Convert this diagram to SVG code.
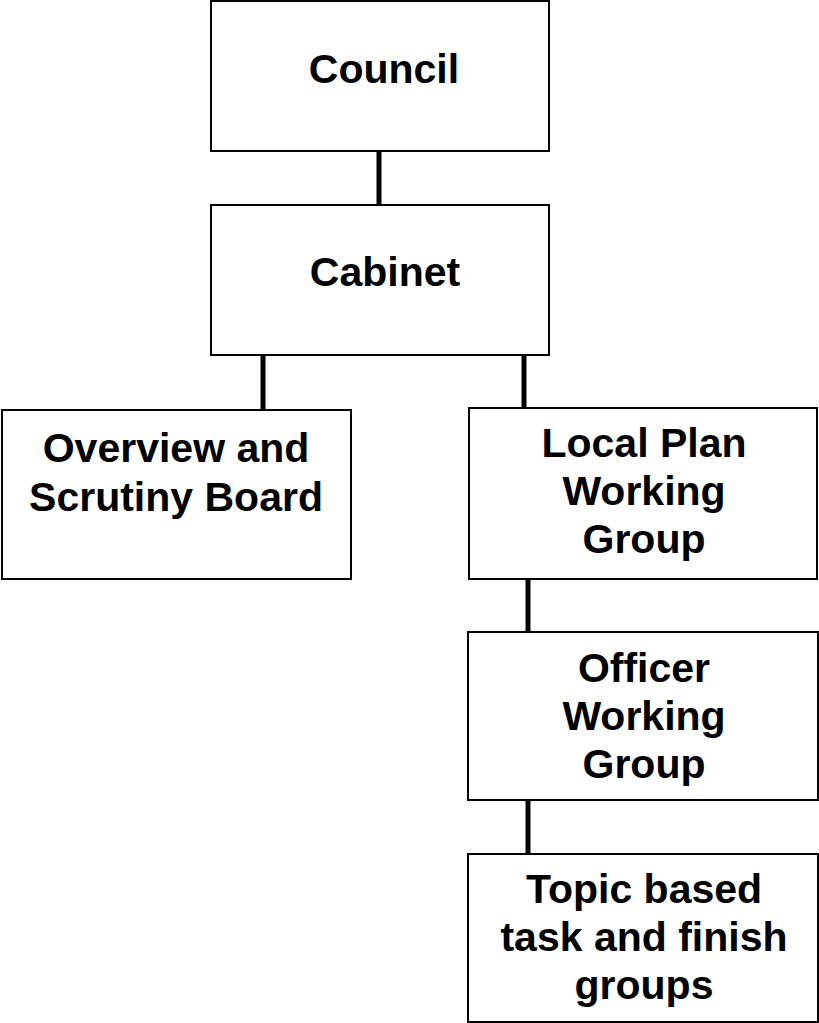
<svg xmlns="http://www.w3.org/2000/svg" width="819" height="1023" viewBox="0 0 819 1023">
<style>
.box{fill:#fff;stroke:#000;stroke-width:2}
.lbl{font-family:"Liberation Sans",Arial,sans-serif;font-weight:bold;font-size:41px;fill:#000;text-anchor:middle}
.con{stroke:#000;stroke-width:5;fill:none}
</style>
<rect width="819" height="1023" fill="#fff"/>
<g id="connectors">
<line class="con" x1="379" y1="151" x2="379" y2="205"/>
<line class="con" x1="263" y1="355" x2="263" y2="410"/>
<line class="con" x1="524" y1="355" x2="524" y2="408"/>
<line class="con" x1="528" y1="579" x2="528" y2="632"/>
<line class="con" x1="528" y1="800" x2="528" y2="854"/>
</g>
<g id="council">
<rect class="box" x="211" y="1" width="338" height="150"/>
<text class="lbl" x="384" y="83">Council</text>
</g>
<g id="cabinet">
<rect class="box" x="211" y="205" width="338" height="150"/>
<text class="lbl" x="385" y="286">Cabinet</text>
</g>
<g id="overview">
<rect class="box" x="2" y="410" width="349" height="169"/>
<text class="lbl" x="176" y="462">Overview and</text>
<text class="lbl" x="176" y="511">Scrutiny Board</text>
</g>
<g id="localplan">
<rect class="box" x="469" y="408" width="348" height="171"/>
<text class="lbl" x="644" y="457">Local Plan</text>
<text class="lbl" x="644" y="505">Working</text>
<text class="lbl" x="644" y="553">Group</text>
</g>
<g id="officer">
<rect class="box" x="468" y="632" width="350" height="168"/>
<text class="lbl" x="644" y="682">Officer</text>
<text class="lbl" x="644" y="730">Working</text>
<text class="lbl" x="644" y="778">Group</text>
</g>
<g id="topic">
<rect class="box" x="468" y="854" width="350" height="168"/>
<text class="lbl" x="644" y="903">Topic based</text>
<text class="lbl" x="644" y="951">task and finish</text>
<text class="lbl" x="644" y="999">groups</text>
</g>
</svg>
